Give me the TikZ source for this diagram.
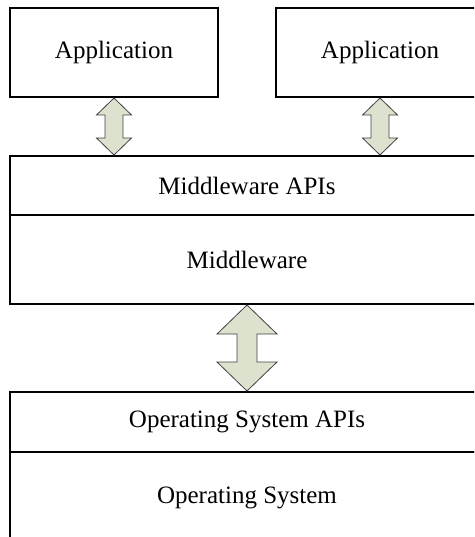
\documentclass[tikz,border=0pt]{standalone}
\usepackage{fontspec}
\setmainfont{Liberation Serif}
\usetikzlibrary{calc}
\definecolor{arrfill}{HTML}{DDE2CF}
\definecolor{arrline}{HTML}{404040}
\tikzset{
  layerbox/.style={draw=black, line width=2pt, rectangle, inner sep=0pt, font=\fontsize{25}{29}\selectfont},
  dblarrstyle/.style={draw=arrline, line width=0.8pt, fill=arrfill, line join=miter},
}
% #1 top node anchor, #2 bottom node anchor, #3 head half width, #4 shaft half width, #5 head length
\newcommand\mydblarr[5]{%
  \draw[dblarrstyle] let \p1=(#1), \p2=(#1 |- #2) in
    (\p1) -- (\x1+#3,\y1-#5) -- (\x1+#4,\y1-#5) -- (\x1+#4,\y2+#5) -- (\x1+#3,\y2+#5)
    -- (\p2) -- (\x1-#3,\y2+#5) -- (\x1-#4,\y2+#5) -- (\x1-#4,\y1-#5) -- (\x1-#3,\y1-#5) -- cycle;}
\begin{document}
\begin{tikzpicture}[x=1pt,y=1pt]
\useasboundingbox (0,0) rectangle (474,-537);
\clip (0,0) rectangle (474,-537);
\node[layerbox, minimum width=208pt, minimum height=89pt] (app1) at (114,-52.5) {Application};
\node[layerbox, minimum width=208pt, minimum height=89pt] (app2) at (380,-52.5) {Application};
\node[layerbox, minimum width=474pt, minimum height=59pt] (mwapi) at (247,-185.5) {Middleware APIs};
\node[layerbox, minimum width=474pt, minimum height=89pt] (mw) at (247,-259.5) {Middleware};
\node[layerbox, minimum width=474pt, minimum height=60pt] (osapi) at (247,-422) {Operating System APIs};
\node[layerbox, minimum width=474pt, minimum height=92pt] (os) at (247,-498) {Operating System};
\mydblarr{app1.south}{mwapi.north}{17.5}{9}{17}
\mydblarr{app2.south}{mwapi.north}{17.5}{9}{17}
\mydblarr{mw.south}{osapi.north}{30}{10}{29}
\end{tikzpicture}
\end{document}
